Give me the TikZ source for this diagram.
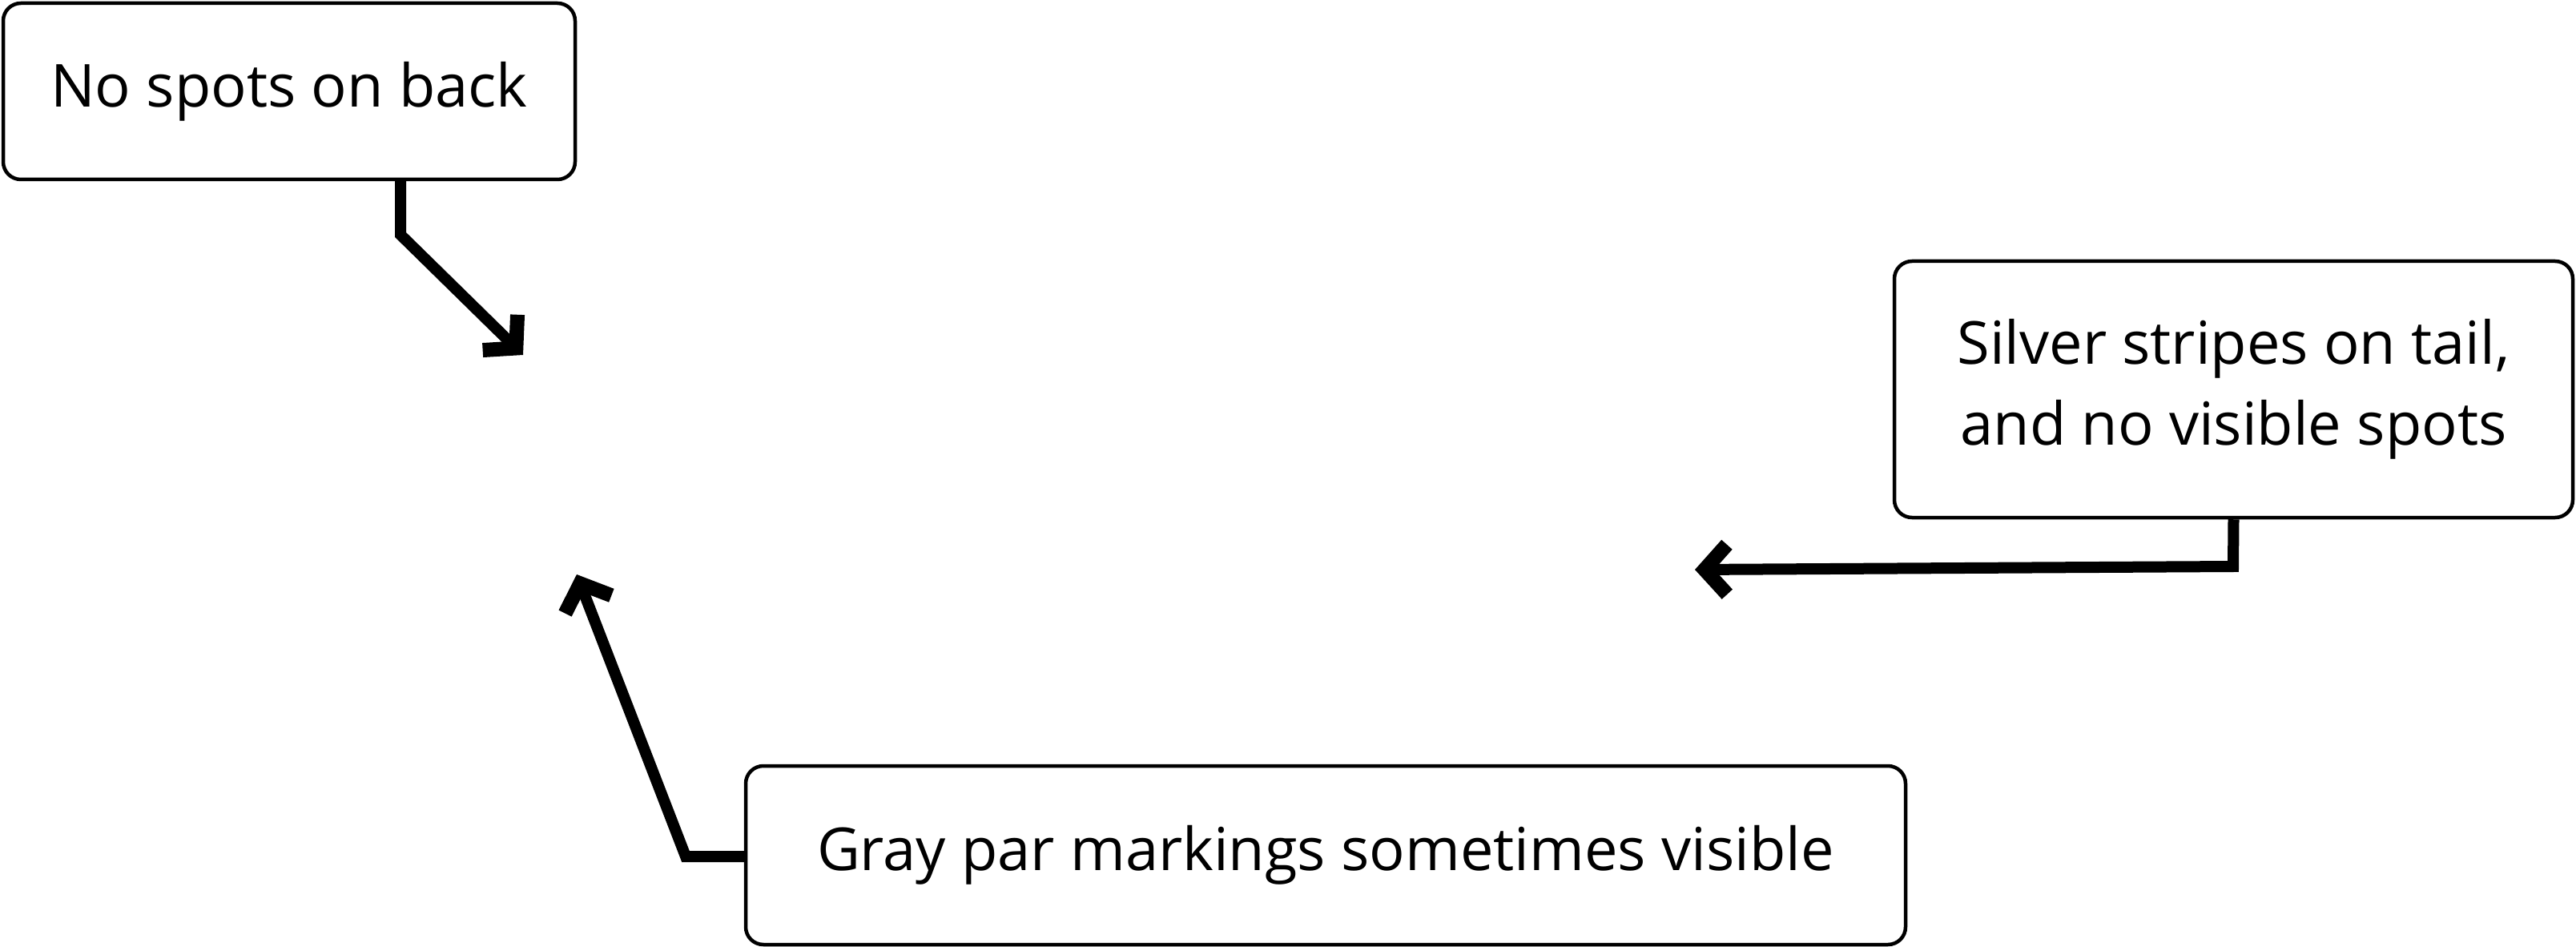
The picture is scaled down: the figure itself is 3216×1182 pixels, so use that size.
\documentclass[tikz,border=0pt]{standalone}
\usepackage{fontspec}
\setmainfont{Open Sans}
\usetikzlibrary{arrows.meta,calc}
\begin{document}
\begin{tikzpicture}[x=1pt,y=-1pt,
  box/.style={draw=black, line width=4.5pt, rounded corners=22pt, fill=white,
    inner sep=0pt, align=center, font=\fontsize{74}{101}\selectfont},
  conn/.style={draw=black, line width=14pt, line join=miter,
    -{Straight Barb[length=28pt,width=62pt,line width=18pt]}}]
\fill[white] (0,0) rectangle (3216,1182);
\useasboundingbox (0,0) rectangle (3216,1182);
\node[box, minimum width=714pt, minimum height=220pt] (b1) at (361,114) {No spots on back};
\node[box, minimum width=847pt, minimum height=320pt] (b2) at (2788.5,486) {Silver stripes on tail,\\and no visible spots};
\node[box, minimum width=1448pt, minimum height=223pt] (b3) at (1655,1067.5) {Gray par markings sometimes visible};
\coordinate (k1) at (500,293);
\coordinate (t1) at (653,443);
\coordinate (k2) at (2788,707);
\coordinate (t2) at (2116,711);
\coordinate (k3) at (856,1069);
\coordinate (t3) at (720,717);
\draw[conn] (b1.south -| k1) -- (k1) -- (t1);
\draw[conn] (b2.south) -- (k2) -- (t2);
\draw[conn] (b3.west |- k3) -- (k3) -- (t3);
\end{tikzpicture}
\end{document}
